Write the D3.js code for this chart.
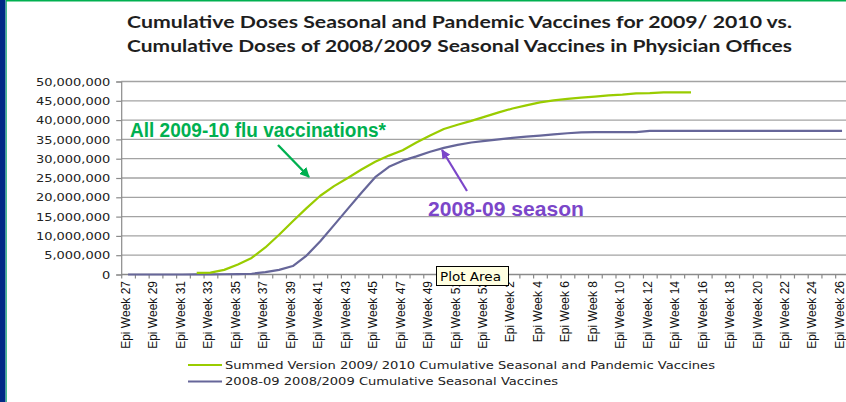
<!DOCTYPE html>
<html>
<head>
<meta charset="utf-8">
<script src="https://cdn.jsdelivr.net/npm/d3@7"></script>
<style>
  html, body { margin: 0; padding: 0; background: #fff; }
  svg { display: block; }
</style>
</head>
<body>
<svg id="chart" width="846" height="402"></svg>
<script>
// Epidemiological weeks, July 2009 through June 2010 (2009 has 53 epi weeks)
const weekNumbers = [27, 28, 29, 30, 31, 32, 33, 34, 35, 36, 37, 38, 39, 40, 41, 42, 43, 44,
  45, 46, 47, 48, 49, 50, 51, 52, 53, 1, 2, 3, 4, 5, 6, 7, 8, 9, 10, 11, 12, 13, 14, 15, 16,
  17, 18, 19, 20, 21, 22, 23, 24, 25, 26];
const categories = weekNumbers.map(w => "Epi Week " + w);

// Cumulative doses, in millions
const summed0910 = [null, null, null, null, null, 0.4, 0.5, 1.2, 2.6, 4.3, 7.0, 10.3, 13.8,
  17.2, 20.4, 22.9, 25.0, 27.2, 29.2, 30.8, 32.2, 34.2, 36.0, 37.7, 38.8, 39.8, 40.9, 42.0,
  43.0, 43.8, 44.6, 45.1, 45.5, 45.8, 46.1, 46.4, 46.6, 46.9, 47.0, 47.2, 47.2, 47.2,
  null, null, null, null, null, null, null, null, null, null, null];
const seasonal0809 = [0, 0, 0, 0, 0, 0.02, 0.04, 0.06, 0.1, 0.2, 0.6, 1.2, 2.2, 4.9, 8.6,
  12.8, 17.0, 21.2, 25.2, 27.9, 29.5, 30.6, 31.8, 32.8, 33.6, 34.2, 34.6, 35.0, 35.4, 35.7,
  36.0, 36.3, 36.6, 36.8, 36.9, 36.9, 36.9, 36.9, 37.2, 37.2, 37.2, 37.2, 37.2, 37.2, 37.2,
  37.2, 37.2, 37.2, 37.2, 37.2, 37.2, 37.2, 37.2];

const yTicks = [0, 5, 10, 15, 20, 25, 30, 35, 40, 45, 50];
const xTickLabels = categories.filter((c, i) => i % 2 === 0);

const titleLines = [
  "Cumulative Doses Seasonal and Pandemic Vaccines for 2009/ 2010 vs.",
  "Cumulative Doses of 2008/2009 Seasonal Vaccines in Physician Offices"
];
const legendItems = [
  { name: "Summed Version 2009/ 2010 Cumulative Seasonal and Pandemic Vaccines", color: "#99cc00", width: 490 },
  { name: "2008-09 2008/2009 Cumulative Seasonal Vaccines", color: "#666699", width: 333 }
];

const svg = d3.select("#chart");
const plot = { left: 121.2, right: 848.9, top: 81.5, bottom: 274.5 };

const x = d3.scaleBand().domain(categories).range([plot.left, plot.right]).paddingInner(0).paddingOuter(0);
const xEdge = d3.scaleLinear().domain([0, categories.length]).range([plot.left, plot.right]);
const y = d3.scaleLinear().domain([0, 50]).range([plot.bottom, plot.top]);
const xc = c => x(c) + x.bandwidth() / 2;

// slide frame
svg.append("rect").attr("x", 0).attr("y", 0).attr("width", 846).attr("height", 402).attr("fill", "#fff");
svg.append("rect").attr("x", 0).attr("y", 0).attr("width", 5.6).attr("height", 402).attr("fill", "#002a86");
svg.append("line").attr("x1", 6.3).attr("x2", 6.3).attr("y1", 0).attr("y2", 402)
  .attr("stroke", "#3dbb8a").attr("stroke-width", 1.3);
svg.append("line").attr("x1", 6).attr("x2", 846).attr("y1", 0.8).attr("y2", 0.8)
  .attr("stroke", "#00b050").attr("stroke-width", 1.6);

// title
svg.append("g").selectAll("text").data(titleLines).join("text")
  .attr("x", 127).attr("y", (d, i) => 28 + i * 24)
  .attr("textLength", 665).attr("lengthAdjust", "spacingAndGlyphs")
  .attr("font-family", "Lato, 'Open Sans', sans-serif").attr("font-weight", 700)
  .attr("font-size", 17).attr("fill", "#1e1e1e")
  .text(d => d);

// horizontal gridlines
svg.append("g").selectAll("line").data(yTicks.filter(v => v > 0)).join("line")
  .attr("x1", plot.left).attr("x2", 846)
  .attr("y1", d => y(d)).attr("y2", d => y(d))
  .attr("stroke", "#a3a3a3").attr("stroke-width", 1.3);

// y axis
const yAxis = svg.append("g").attr("transform", `translate(${plot.left},0)`)
  .call(d3.axisLeft(y).tickValues(yTicks).tickSize(5).tickFormat(v => d3.format(",")(v * 1e6)));
yAxis.select(".domain").attr("stroke", "#8a8a8a").attr("stroke-width", 1.2);
yAxis.selectAll(".tick line").attr("stroke", "#8a8a8a").attr("stroke-width", 1.2);
yAxis.selectAll(".tick text")
  .attr("x", 0).attr("dy", "0.36em")
  .attr("transform", "translate(-11,0) scale(1.3,1)")
  .attr("font-family", "'DejaVu Sans', sans-serif").attr("font-size", 10)
  .attr("fill", "#222");

// x axis: tick marks on category boundaries
const xTicks = svg.append("g").attr("transform", `translate(0,${plot.bottom})`)
  .call(d3.axisBottom(xEdge).tickValues(d3.range(0, categories.length + 1)).tickSize(4).tickFormat(""));
xTicks.select(".domain").remove();
xTicks.selectAll(".tick line").attr("stroke", "#8a8a8a").attr("stroke-width", 1.2);
svg.append("line").attr("x1", plot.left).attr("x2", 846)
  .attr("y1", plot.bottom).attr("y2", plot.bottom)
  .attr("stroke", "#8a8a8a").attr("stroke-width", 1.3);

// x axis: rotated category labels
const xLabels = svg.append("g").attr("transform", `translate(0,${plot.bottom})`)
  .call(d3.axisBottom(x).tickValues(xTickLabels).tickSize(0).tickPadding(0));
xLabels.select(".domain").remove();
xLabels.selectAll(".tick text")
  .attr("transform", "rotate(-90)")
  .attr("x", -6.5).attr("y", 0).attr("dy", "0.16em")
  .attr("text-anchor", "end")
  .attr("font-family", "'Liberation Sans', Arial, sans-serif").attr("font-size", 12)
  .attr("fill", "#111");

// series lines
const line = d3.line()
  .defined(v => v != null)
  .x((v, i) => xc(categories[i]))
  .y(v => y(v));

svg.append("path").datum(seasonal0809)
  .attr("d", line).attr("fill", "none")
  .attr("stroke", "#666699").attr("stroke-width", 2.2).attr("stroke-linejoin", "round");
svg.append("path").datum(summed0910)
  .attr("d", line).attr("fill", "none")
  .attr("stroke", "#99cc00").attr("stroke-width", 2.2).attr("stroke-linejoin", "round");

// annotation arrows
const defs = svg.append("defs");
[["arrowGreen", "#00b050"], ["arrowPurple", "#7b46c9"]].forEach(([id, c]) => {
  defs.append("marker").attr("id", id)
    .attr("viewBox", "0 0 10 10").attr("refX", 9).attr("refY", 5)
    .attr("markerWidth", 4.2).attr("markerHeight", 4.2).attr("orient", "auto")
    .attr("markerUnits", "strokeWidth")
    .append("path").attr("d", "M0,0 L10,5 L0,10 z").attr("fill", c);
});
svg.append("line").attr("x1", 278).attr("y1", 145).attr("x2", 309).attr("y2", 177)
  .attr("stroke", "#00b050").attr("stroke-width", 2.4).attr("marker-end", "url(#arrowGreen)");
svg.append("line").attr("x1", 467).attr("y1", 191).attr("x2", 442).attr("y2", 150)
  .attr("stroke", "#7b46c9").attr("stroke-width", 2.2).attr("marker-end", "url(#arrowPurple)");

svg.append("text").attr("x", 130).attr("y", 136.5)
  .attr("textLength", 256).attr("lengthAdjust", "spacingAndGlyphs")
  .attr("font-family", "'Liberation Sans', Arial, sans-serif").attr("font-weight", 700)
  .attr("font-size", 19.5).attr("fill", "#00b050")
  .text("All 2009-10 flu vaccinations*");
svg.append("text").attr("x", 428).attr("y", 216)
  .attr("textLength", 156).attr("lengthAdjust", "spacingAndGlyphs")
  .attr("font-family", "'Liberation Sans', Arial, sans-serif").attr("font-weight", 700)
  .attr("font-size", 21).attr("fill", "#7b46c9")
  .text("2008-09 season");

// legend
const legend = svg.append("g").selectAll("g").data(legendItems).join("g")
  .attr("transform", (d, i) => `translate(0,${365 + i * 16.5})`);
legend.append("line").attr("x1", 188).attr("x2", 222).attr("y1", 0).attr("y2", 0)
  .attr("stroke", d => d.color).attr("stroke-width", 2.2);
legend.append("text").attr("x", 225).attr("y", 0).attr("dy", "0.36em")
  .attr("textLength", d => d.width).attr("lengthAdjust", "spacingAndGlyphs")
  .attr("font-family", "'DejaVu Sans', sans-serif").attr("font-size", 10.5)
  .attr("fill", "#222")
  .text(d => d.name);

// hover tip over the plot area
const tip = svg.append("g").attr("transform", "translate(436,266)");
tip.append("rect").attr("x", 0.5).attr("y", 0.5).attr("width", 72).attr("height", 19)
  .attr("fill", "#ffffe1").attr("stroke", "#000").attr("stroke-width", 1);
tip.append("text").attr("x", 4).attr("y", 14.5)
  .attr("textLength", 61).attr("lengthAdjust", "spacingAndGlyphs")
  .attr("font-family", "'DejaVu Sans', sans-serif").attr("font-size", 12.5).attr("fill", "#000")
  .text("Plot Area");
</script>
</body>
</html>
